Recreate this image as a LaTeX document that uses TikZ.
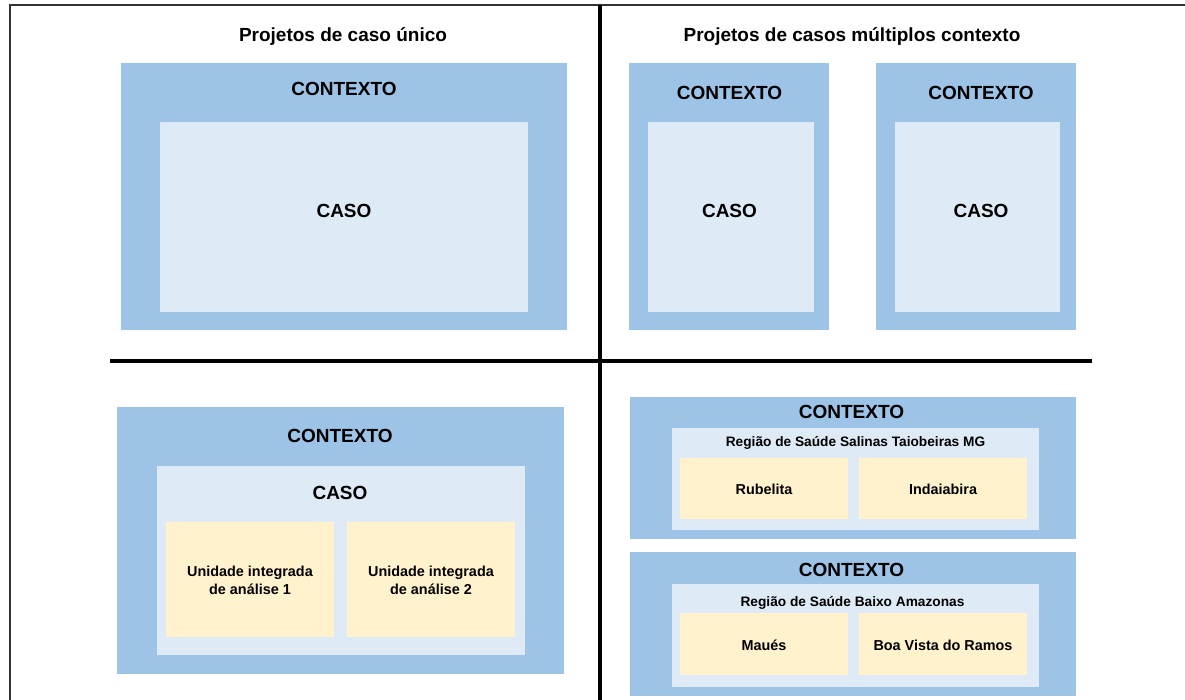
\documentclass[tikz,border=0pt]{standalone}
\usepackage{fontspec}
\setmainfont{Liberation Sans}

\definecolor{ctxblue}{HTML}{9DC3E6}
\definecolor{caselight}{HTML}{DEEBF7}
\definecolor{unityellow}{HTML}{FFF2CC}
\definecolor{framegray}{HTML}{333333}

\tikzset{
  box/.style={rectangle, inner sep=0pt, outer sep=0pt, draw=none},
  ctxbox/.style={box, fill=ctxblue},
  casebox/.style={box, fill=caselight},
  unitbox/.style={box, fill=unityellow},
  bigtext/.style={inner sep=0pt, anchor=base, font=\bfseries\fontsize{19}{23}\selectfont},
  regiontext/.style={inner sep=0pt, anchor=base, font=\bfseries\fontsize{13.7}{16}\selectfont},
  unittext/.style={inner sep=0pt, align=center, font=\bfseries\fontsize{14.4}{17.6}\selectfont},
  outerframe/.style={draw=framegray, line width=2pt},
  divider/.style={draw=black, line width=4pt},
}

\begin{document}
\begin{tikzpicture}[x=1pt, y=-1pt]
\useasboundingbox (0,0) rectangle (1185,700);

% outer frame (left and top edges)
\coordinate (frameBL) at (9.5,700);
\coordinate (frameTL) at (9.5,5.5);
\coordinate (frameTR) at (1185,5.5);
\draw[outerframe] (frameBL) -- (frameTL) -- (frameTR);

% quadrant dividers
\coordinate (vtop) at (600,5);
\coordinate (vbot) at (600,700);
\coordinate (hleft) at (110,361);
\coordinate (hright) at (1092,361);
\draw[divider] (vtop) -- (vbot);
\draw[divider] (hleft) -- (hright);

% headings
\node[bigtext] (titleSingle) at (343,42) {Projetos de caso único};
\node[bigtext] (titleMulti) at (852,42) {Projetos de casos múltiplos contexto};

% single case design
\node[ctxbox, minimum width=446, minimum height=267] (tlCtx) at (344,196.5) {};
\node[casebox, minimum width=368, minimum height=190] (tlCase) at (344,217) {};
\node[bigtext] (tlCtxLabel) at (344,95.7) {CONTEXTO};
\node[bigtext] (tlCaseLabel) at (344,217.3) {CASO};

% multiple case designs
\node[ctxbox, minimum width=200, minimum height=267] (trCtxA) at (729,196.5) {};
\node[casebox, minimum width=166, minimum height=190] (trCaseA) at (731,217) {};
\node[bigtext] (trCtxALabel) at (729.5,99.3) {CONTEXTO};
\node[bigtext] (trCaseALabel) at (729.5,217.3) {CASO};

\node[ctxbox, minimum width=200, minimum height=267] (trCtxB) at (976,196.5) {};
\node[casebox, minimum width=165, minimum height=190] (trCaseB) at (977.5,217) {};
\node[bigtext] (trCtxBLabel) at (981,99.3) {CONTEXTO};
\node[bigtext] (trCaseBLabel) at (981,217.3) {CASO};

% embedded single case
\node[ctxbox, minimum width=447, minimum height=267] (blCtx) at (340.5,540.5) {};
\node[casebox, minimum width=368, minimum height=189] (blCase) at (341,560.5) {};
\node[bigtext] (blCtxLabel) at (340,442.3) {CONTEXTO};
\node[bigtext] (blCaseLabel) at (340,499.3) {CASO};
\node[unitbox, minimum width=168, minimum height=115] (blUnitA) at (250,579.5) {};
\node[unitbox, minimum width=168, minimum height=115] (blUnitB) at (431,579.5) {};
\node[unittext] (blUnitALabel) at (250,580.3) {Unidade integrada\\de análise 1};
\node[unittext] (blUnitBLabel) at (431,580.3) {Unidade integrada\\de análise 2};

% embedded multiple cases: Salinas Taiobeiras
\node[ctxbox, minimum width=446, minimum height=142] (brCtxA) at (853,468) {};
\node[casebox, minimum width=367, minimum height=102] (brCaseA) at (855.5,479) {};
\node[bigtext] (brCtxALabel) at (851.5,418.3) {CONTEXTO};
\node[regiontext] (brCaseALabel) at (855.5,446) {Região de Saúde Salinas Taiobeiras MG};
\node[unitbox, minimum width=168, minimum height=61] (brUnitA1) at (764,488.5) {};
\node[unitbox, minimum width=168, minimum height=61] (brUnitA2) at (943,488.5) {};
\node[regiontext, font=\bfseries\fontsize{14.4}{17}\selectfont] (brUnitA1Label) at (764,494) {Rubelita};
\node[regiontext, font=\bfseries\fontsize{14.4}{17}\selectfont] (brUnitA2Label) at (943,494) {Indaiabira};

% embedded multiple cases: Baixo Amazonas
\node[ctxbox, minimum width=446, minimum height=144] (brCtxB) at (853,624) {};
\node[casebox, minimum width=367, minimum height=103] (brCaseB) at (855.5,635.5) {};
\node[bigtext] (brCtxBLabel) at (851.5,576) {CONTEXTO};
\node[regiontext] (brCaseBLabel) at (852.5,606) {Região de Saúde Baixo Amazonas};
\node[unitbox, minimum width=168, minimum height=62] (brUnitB1) at (764,644) {};
\node[unitbox, minimum width=168, minimum height=62] (brUnitB2) at (943,644) {};
\node[regiontext, font=\bfseries\fontsize{14.4}{17}\selectfont] (brUnitB1Label) at (764,650) {Maués};
\node[regiontext, font=\bfseries\fontsize{14.4}{17}\selectfont] (brUnitB2Label) at (943,650) {Boa Vista do Ramos};
\end{tikzpicture}
\end{document}
